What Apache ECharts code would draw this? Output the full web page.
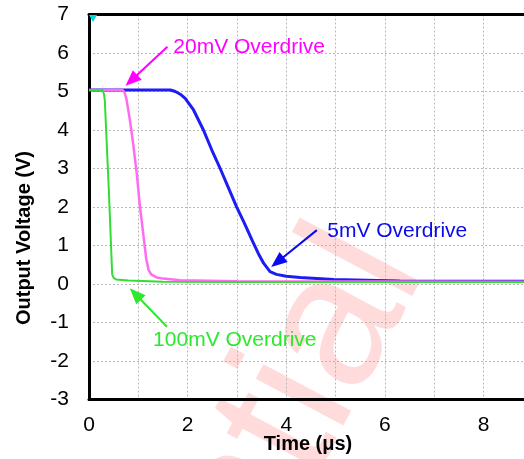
<!DOCTYPE html>
<html><head><meta charset="utf-8">
<script src="https://cdn.jsdelivr.net/npm/echarts@6/dist/echarts.min.js"></script>
<style>html,body{margin:0;padding:0;background:#fff}#c{width:524px;height:459px}</style>
</head><body><div id="c"></div>
<script>
// Time axis (µs) and voltage axis (V)
const xMin = 0, xMax = 8.82, xStep = 1;
const yMin = -3, yMax = 7, yStep = 1;

// 5mV overdrive (blue)
const tBlue = [0, 1.65, 1.75, 1.85, 1.95, 2.12, 2.32, 2.49, 2.66, 2.83, 2.99, 3.15, 3.32, 3.43, 3.54, 3.67, 3.80, 4.0, 4.28, 4.96, 5.63, 6.3, 7.0, 8.82];
const vBlue = [5.04, 5.04, 5.0, 4.93, 4.82, 4.52, 4.0, 3.48, 3.0, 2.49, 2.01, 1.58, 1.1, 0.8, 0.54, 0.32, 0.25, 0.2, 0.17, 0.12, 0.1, 0.08, 0.07, 0.07];

// 20mV overdrive (pink)
const tPink = [0, 0.68, 0.72, 0.76, 0.83, 0.90, 0.97, 1.03, 1.10, 1.16, 1.21, 1.26, 1.37, 1.5, 1.85, 3.0, 8.82];
const vPink = [5.04, 5.04, 4.98, 4.8, 4.25, 3.6, 2.85, 2.05, 1.3, 0.65, 0.36, 0.25, 0.17, 0.14, 0.1, 0.07, 0.06];

// 100mV overdrive (green)
const tGreen = [0, 0.27, 0.30, 0.32, 0.40, 0.47, 0.50, 0.55, 0.8, 1.5, 3.0, 6.0, 8.82];
const vGreen = [5.04, 5.04, 4.95, 4.78, 2.5, 0.25, 0.16, 0.12, 0.09, 0.06, 0.05, 0.05, 0.05];

// Annotations: [text, textT, textV, arrowFromT, arrowFromV, arrowToT, arrowToV]
const annBlue  = ['5mV Overdrive', 4.83, 1.36, 4.62, 1.40, 3.82, 0.57];
const annPink  = ['20mV Overdrive', 1.71, 6.16, 1.59, 6.16, 0.86, 5.29];
const annGreen = ['100mV Overdrive', 1.30, -1.45, 1.58, -1.11, 0.94, -0.26];

// trigger marker position (top-left corner)
const trigMark = [0, 7];

const FONT = "'Liberation Sans', Arial, sans-serif";
const zip = (a, b) => a.map((t, i) => [t, b[i]]);

function annot(a, color, extra) {
  const pts = [{coord: [a[1], a[2]], symbol: 'circle', symbolSize: 0,
    label: {show: true, position: 'right', distance: 0, formatter: a[0],
      color: color, fontSize: 21, fontFamily: FONT}}];
  if (extra) pts.push(extra);
  return {
    markLine: {
      silent: true, animation: false,
      symbol: ['none', 'triangle'], symbolSize: [13, 16],
      label: {show: false},
      lineStyle: {color: color, width: 2, type: 'solid'},
      emphasis: {disabled: true},
      data: [[{coord: [a[3], a[4]]}, {coord: [a[5], a[6]]}]]
    },
    markPoint: {silent: true, animation: false, data: pts}
  };
}

const chart = echarts.init(document.getElementById('c'), null, {renderer: 'canvas'});
const grid = {left: 89, right: 0, top: 14.5, bottom: 59.5, containLabel: false};
const split = {show: true, lineStyle: {color: '#b8b8b8', width: 1, type: [2, 2]}};

chart.setOption({
  animation: false,
  backgroundColor: '#fff',
  grid: grid,
  xAxis: [{
    type: 'value', min: xMin, max: xMax, interval: xStep,
    axisLine: {show: true, onZero: false, lineStyle: {color: '#000', width: 3}},
    axisTick: {show: false},
    splitLine: split,
    axisLabel: {color: '#000', fontSize: 21, fontFamily: FONT, margin: 15,
      formatter: v => (Math.abs(v - Math.round(v)) < 1e-9 && Math.round(v) % 2 === 0) ? String(Math.round(v)) : '',
      showMaxLabel: false}
  }, {
    type: 'value', min: xMin, max: xMax, position: 'top',
    axisLine: {show: true, onZero: false, lineStyle: {color: '#000', width: 3}},
    axisTick: {show: false}, axisLabel: {show: false}, splitLine: {show: false}
  }],
  yAxis: {
    type: 'value', min: yMin, max: yMax, interval: yStep,
    axisLine: {show: true, onZero: false, lineStyle: {color: '#000', width: 3}},
    axisTick: {show: false},
    splitLine: split,
    axisLabel: {color: '#000', fontSize: 21, fontFamily: FONT, margin: 20}
  },
  graphic: [
    {type: 'text', z: 0, silent: true, x: 380, y: 246, rotation: 62 * Math.PI / 180,
      style: {text: 'Confidential', fontSize: 188, fontFamily: FONT, fill: 'rgba(255,0,0,0.14)',
        textAlign: 'right', textVerticalAlign: 'middle'}},
    {type: 'text', x: 308, y: 444, z: 10,
      style: {text: 'Time (μs)', fontSize: 20, fontWeight: 'bold', fontFamily: FONT, fill: '#000',
        textAlign: 'center', textVerticalAlign: 'middle'}},
    {type: 'text', x: 24, y: 238, rotation: Math.PI / 2, z: 10,
      style: {text: 'Output Voltage (V)', fontSize: 20, fontWeight: 'bold', fontFamily: FONT, fill: '#000',
        textAlign: 'center', textVerticalAlign: 'middle'}}
  ],
  series: [
    Object.assign({
      type: 'line', name: '5mV', data: zip(tBlue, vBlue), showSymbol: false, z: 3,
      lineStyle: {color: '#1c1cf5', width: 3}, itemStyle: {color: '#1c1cf5'}
    }, annot(annBlue, '#0a0aee')),
    Object.assign({
      type: 'line', name: '20mV', data: zip(tPink, vPink), showSymbol: false, z: 4,
      lineStyle: {color: '#ff6cf0', width: 2.5}, itemStyle: {color: '#ff6cf0'}
    }, annot(annPink, '#ff00ff')),
    Object.assign({
      type: 'line', name: '100mV', data: zip(tGreen, vGreen), showSymbol: false, z: 5,
      lineStyle: {color: '#33dd33', width: 2}, itemStyle: {color: '#33dd33'}
    }, annot(annGreen, '#2ee82e', {coord: trigMark, symbol: 'triangle', symbolRotate: 180,
      symbolSize: [8, 7], symbolOffset: [4, 4], itemStyle: {color: '#00d8e0'}, label: {show: false}}))
  ]
});
</script>
</body></html>
